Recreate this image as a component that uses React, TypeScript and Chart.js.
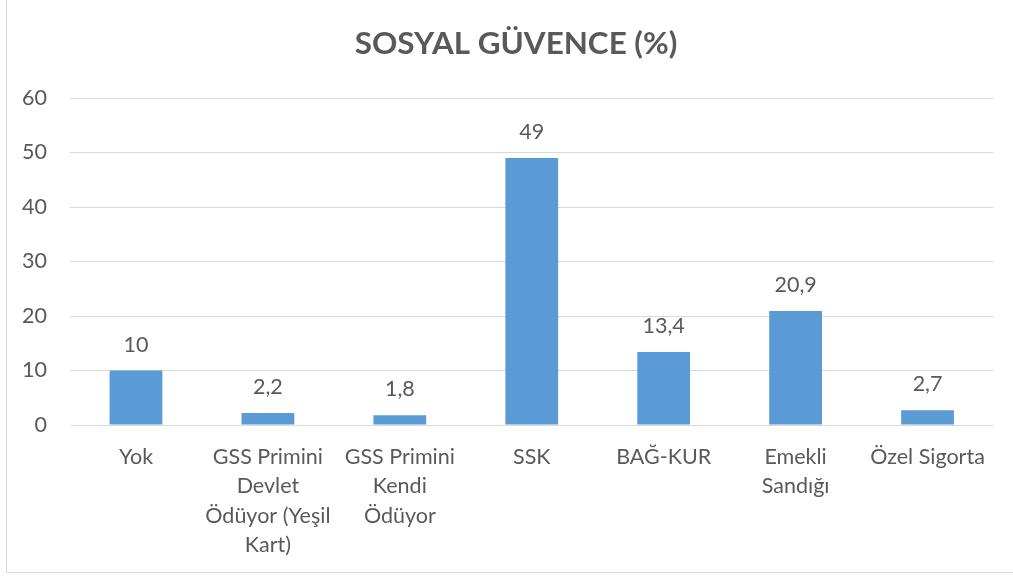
import React, { useEffect, useRef } from "react";
import { Chart, registerables } from "chart.js";

Chart.register(...registerables);

const TITLE = "SOSYAL GÜVENCE (%)";
const categories: string[][] = [
  ["Yok"],
  ["GSS Primini", "Devlet", "Ödüyor (Yeşil", "Kart)"],
  ["GSS Primini", "Kendi", "Ödüyor"],
  ["SSK"],
  ["BAĞ-KUR"],
  ["Emekli", "Sandığı"],
  ["Özel Sigorta"],
];
const values: number[] = [10, 2.2, 1.8, 49, 13.4, 20.9, 2.7];
const yTicks: number[] = [0, 10, 20, 30, 40, 50, 60];

const FONT = "Lato";
const TEXT = "#595959";
const GRID = "#d9d9d9";
const BAR = "#5B9BD5";
const FS = 21.5;

const fmt = (v: number) => String(v).replace(".", ",");

const valueLabels = {
  id: "valueLabels",
  afterDatasetsDraw(chart: any) {
    const ctx = chart.ctx;
    const meta = chart.getDatasetMeta(0);
    ctx.save();
    ctx.font = `${FS}px ${FONT}`;
    ctx.fillStyle = TEXT;
    ctx.textAlign = "center";
    ctx.textBaseline = "alphabetic";
    meta.data.forEach((bar: any, i: number) => {
      ctx.fillText(fmt(values[i]), bar.x, bar.y - 19);
    });
    ctx.restore();
  },
};

const titlePlugin = {
  id: "centeredTitle",
  afterDraw(chart: any) {
    const ctx = chart.ctx;
    ctx.save();
    ctx.font = `bold 31.4px ${FONT}`;
    ctx.fillStyle = TEXT;
    ctx.textAlign = "center";
    ctx.textBaseline = "middle";
    ctx.fillText(TITLE, 516, 44);
    ctx.restore();
  },
};

export default function App() {
  const ref = useRef<HTMLCanvasElement | null>(null);
  useEffect(() => {
    if (!ref.current) return;
    const chart = new Chart(ref.current, {
      type: "bar",
      data: {
        labels: categories,
        datasets: [
          {
            data: values,
            backgroundColor: BAR,
            barPercentage: 0.4,
            categoryPercentage: 1,
          },
        ],
      },
      options: {
        responsive: false,
        animation: false,
        devicePixelRatio: 1,
        layout: { padding: { top: 98, left: 0, right: 19.5, bottom: 0 } },
        plugins: {
          legend: { display: false },
          tooltip: { enabled: false },
          title: { display: false },
        },
        scales: {
          x: {
            grid: { display: false, drawTicks: false },
            border: { display: false },
            ticks: {
              color: TEXT,
              font: { family: FONT, size: FS, lineHeight: 29.5 / FS },
              padding: 17,
              maxRotation: 0,
              autoSkip: false,
            },
            afterFit: (s: any) => {
              s.height = 154;
            },
          },
          y: {
            min: 0,
            max: 60,
            afterBuildTicks: (s: any) => {
              s.ticks = yTicks.map((v) => ({ value: v }));
            },
            grid: { color: GRID, lineWidth: 1, drawTicks: false },
            border: { display: false },
            ticks: {
              color: TEXT,
              font: { family: FONT, size: FS },
              padding: 23,
            },
            afterFit: (s: any) => {
              s.width = 70;
            },
          },
        },
      },
      plugins: [valueLabels, titlePlugin],
    });
    return () => chart.destroy();
  }, []);

  return (
    <div
      style={{
        position: "absolute",
        left: 0,
        top: 0,
        width: 1013,
        height: 579,
        background: "#fff",
        overflow: "hidden",
      }}
    >
      <div
        style={{
          position: "absolute",
          left: 6,
          top: -2,
          width: 1020,
          height: 575,
          borderLeft: `1.5px solid ${GRID}`,
          borderBottom: `1.5px solid ${GRID}`,
          boxSizing: "border-box",
        }}
      />
      <canvas
        ref={ref}
        width={1013}
        height={579}
        style={{ position: "absolute", left: 0, top: 0 }}
      />
    </div>
  );
}
